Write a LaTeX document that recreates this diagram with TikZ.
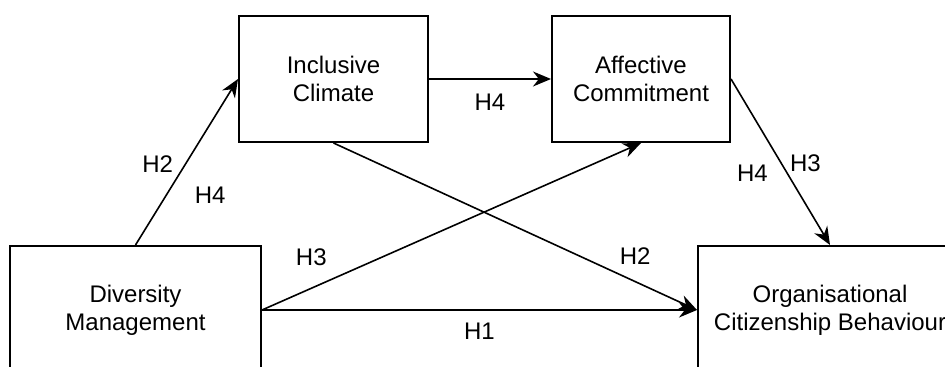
\documentclass[tikz,border=0pt]{standalone}
\usepackage{fontspec}
\setmainfont{Liberation Sans}
\usetikzlibrary{arrows.meta,positioning}

\begin{document}
\begin{tikzpicture}[>={Stealth[length=9pt,width=7.5pt]},on grid,font=\fontsize{12}{14}\selectfont]
  \tikzstyle{block}=[draw,line width=1pt,align=center,inner sep=0pt]
  \tikzstyle{hyp}=[inner sep=0pt]
  \useasboundingbox (0,0) rectangle (472.5pt,-183.5pt);

  % Constructs
  \node[block,minimum width=94.5pt,minimum height=63pt] (ic) at (166.75pt,-39.5pt) {Inclusive\\Climate};
  \node[block,minimum width=89pt,minimum height=63pt,right=153.75pt of ic] (ac) {Affective\\Commitment};
  \node[block,minimum width=125.5pt,minimum height=64pt,below left=115.5pt and 99pt of ic] (dm) {Diversity\\Management};
  \node[block,minimum width=132pt,minimum height=64pt,right=347.25pt of dm] (ocb) {Organisational\\Citizenship Behaviour};

  % Hypotheses
  \path[->,line width=0.8pt]
    (dm.north) edge node[hyp,pos=.49,xshift=-14pt] (h2a) {H2}
                    node[hyp,pos=.3,xshift=22pt] (h4a) {H4} (ic.west)
    (ic.east) edge node[hyp,pos=.5,yshift=-11.5pt] (h4b) {H4} (ac.west)
    (ic.south) edge node[hyp,pos=.83,yshift=12.5pt] (h2b) {H2} (ocb.west)
    (dm.east) edge node[hyp,pos=.13,yshift=15.5pt] (h3a) {H3} (ac.south)
    (dm.east) edge node[hyp,pos=.5,yshift=-10.5pt] (h1) {H1} (ocb.west)
    (ac.east) edge node[hyp,pos=.57,xshift=-17.5pt] (h4c) {H4}
                   node[hyp,pos=.51,xshift=12pt] (h3b) {H3} (ocb.north);
\end{tikzpicture}
\end{document}
